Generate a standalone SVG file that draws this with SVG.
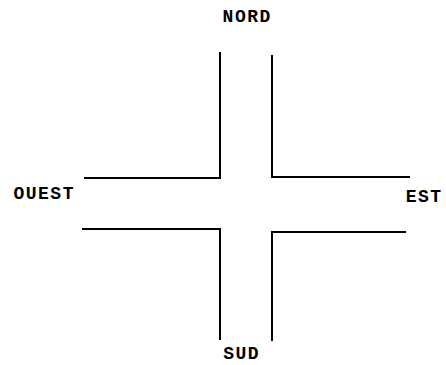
<svg xmlns="http://www.w3.org/2000/svg" width="446" height="365" viewBox="0 0 446 365">
<style>
.l{fill:none;stroke:#000;stroke-width:2}
.t{font-family:"Liberation Mono","Courier New",monospace;font-weight:bold;font-size:18px;letter-spacing:1.5px;fill:#000;text-anchor:middle}
</style>
<rect width="446" height="365" fill="#fff"/>
<g id="connectors">
<path class="l" d="M220,52 V178 H84"/>
<path class="l" d="M272,55 V177 H410"/>
<path class="l" d="M82,229 H220 V340"/>
<path class="l" d="M406,232 H272 V341"/>
</g>
<g id="nord"><text class="t" x="247.2" y="22">NORD</text></g>
<g id="ouest"><text class="t" x="44.2" y="199">OUEST</text></g>
<g id="est"><text class="t" x="424.2" y="202">EST</text></g>
<g id="sud"><text class="t" x="241.7" y="359">SUD</text></g>
</svg>
